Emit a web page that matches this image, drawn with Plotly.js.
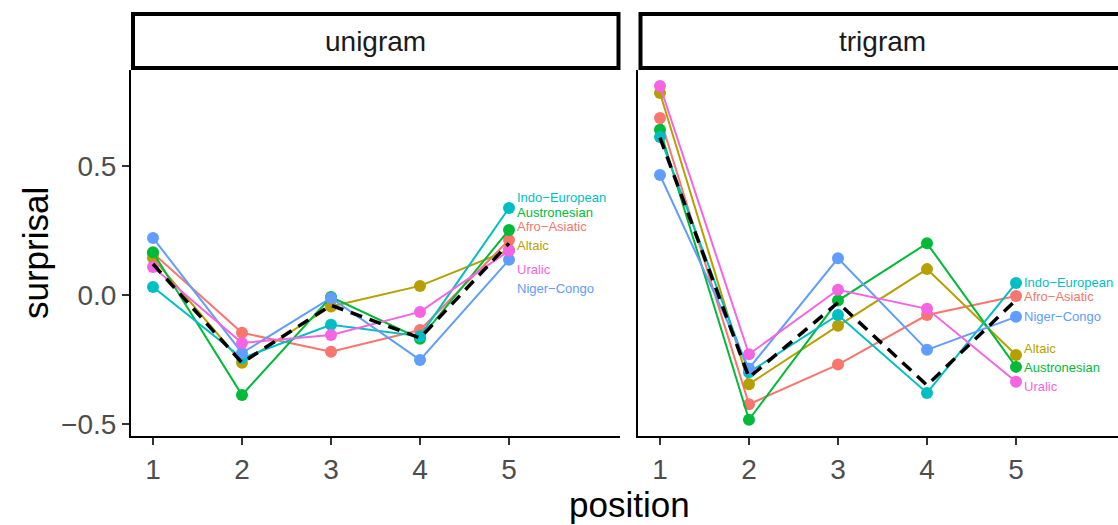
<!DOCTYPE html>
<html>
<head>
<meta charset="utf-8">
<script src="https://cdn.plot.ly/plotly-3.0.1.min.js"></script>
<style>html,body{margin:0;padding:0;background:#fff;}#chart{width:1118px;height:525px;}</style>
</head>
<body>
<div id="chart"></div>
<script>
// ---- data ----
const positions = [1, 2, 3, 4, 5];
const families = ["Afro−Asiatic", "Altaic", "Austronesian", "Indo−European", "Niger−Congo", "Uralic"];
const familyColors = ["#F8766D", "#B79F00", "#00BA38", "#00BFC4", "#619CFF", "#F564E3"];
const panels = ["unigram", "trigram"];

// unigram panel
const uniAfroAsiatic  = [0.162, -0.147, -0.220, -0.136, 0.213];
const uniAltaic       = [0.143, -0.263, -0.045,  0.035, 0.174];
const uniAustronesian = [0.165, -0.388, -0.008, -0.170, 0.252];
const uniIndoEuropean = [0.031, -0.245, -0.116, -0.160, 0.337];
const uniNigerCongo   = [0.221, -0.225, -0.012, -0.252, 0.136];
const uniUralic       = [0.108, -0.186, -0.155, -0.066, 0.171];
const uniMean         = [0.120, -0.263, -0.040, -0.167, 0.200];
// label positions (value axis) for the direct labels
const uniLabelY = [0.264, 0.190, 0.318, 0.376, 0.023, 0.100];

// trigram panel
const triAfroAsiatic  = [0.686, -0.424, -0.270, -0.078, -0.004];
const triAltaic       = [0.783, -0.346, -0.120,  0.100, -0.233];
const triAustronesian = [0.640, -0.484, -0.022,  0.200, -0.279];
const triIndoEuropean = [0.612, -0.300, -0.078, -0.380,  0.046];
const triNigerCongo   = [0.465, -0.285,  0.142, -0.213, -0.085];
const triUralic       = [0.810, -0.230,  0.020, -0.054, -0.337];
const triMean         = [0.610, -0.320, -0.030, -0.350, -0.020];
const triLabelY = [-0.008, -0.209, -0.283, 0.050, -0.085, -0.357];

const yTickVals = [-0.5, 0, 0.5];
const yTickText = ["−0.5", "0.0", "0.5"];
const xTickVals = [1, 2, 3, 4, 5];
const xTickText = ["1", "2", "3", "4", "5"];

// ---- build ----
const FONT = "Liberation Sans, Arial, Helvetica, sans-serif";
const uniSeries = [uniAfroAsiatic, uniAltaic, uniAustronesian, uniIndoEuropean, uniNigerCongo, uniUralic];
const triSeries = [triAfroAsiatic, triAltaic, triAustronesian, triIndoEuropean, triNigerCongo, triUralic];

const traces = [];
const annotations = [];
[[uniSeries, uniMean, uniLabelY, "x", "y"], [triSeries, triMean, triLabelY, "x2", "y2"]].forEach(([series, mean, labY, xa, ya]) => {
  series.forEach((vals, i) => {
    traces.push({
      x: positions, y: vals, xaxis: xa, yaxis: ya,
      type: "scatter", mode: "lines+markers",
      line: {color: familyColors[i], width: 2},
      marker: {color: familyColors[i], size: 12},
      showlegend: false, hoverinfo: "skip", cliponaxis: false
    });
    annotations.push({
      x: positions[positions.length - 1], y: labY[i], xref: xa, yref: ya,
      text: families[i], showarrow: false, xanchor: "left", yanchor: "middle",
      xshift: 6, font: {family: FONT, size: 13, color: familyColors[i]}
    });
  });
  traces.push({
    x: positions, y: mean, xaxis: xa, yaxis: ya,
    type: "scatter", mode: "lines",
    line: {color: "#000000", width: 3.5, dash: "12px,8px"},
    showlegend: false, hoverinfo: "skip", cliponaxis: false
  });
});

// pixel helpers for paper coordinates (plot area: x 131..1118, y 70..436)
const L = 131, R = 1118, T = 70, B = 436;
const px = v => (v - L) / (R - L);
const py = v => (B - v) / (B - T);

// strip labels
annotations.push({x: px(375.5), y: py(41), xref: "paper", yref: "paper", text: panels[0], showarrow: false,
  xanchor: "center", yanchor: "middle", font: {family: FONT, size: 28, color: "#1A1A1A"}});
annotations.push({x: px(882), y: py(41), xref: "paper", yref: "paper", text: panels[1], showarrow: false,
  xanchor: "center", yanchor: "middle", font: {family: FONT, size: 28, color: "#1A1A1A"}});
// axis titles
annotations.push({x: px(629), y: py(505), xref: "paper", yref: "paper", text: "position", showarrow: false,
  xanchor: "center", yanchor: "middle", font: {family: FONT, size: 35, color: "#000000"}});
annotations.push({x: px(35), y: py(253), xref: "paper", yref: "paper", text: "surprisal", showarrow: false,
  textangle: -90, xanchor: "center", yanchor: "middle", font: {family: FONT, size: 35, color: "#000000"}});

const shapes = [
  {type: "rect", xref: "paper", yref: "paper", x0: px(133), x1: px(618.5), y0: py(68), y1: py(14),
   line: {color: "#000", width: 4}, fillcolor: "rgba(0,0,0,0)"},
  {type: "rect", xref: "paper", yref: "paper", x0: px(640.5), x1: px(1122), y0: py(68), y1: py(14),
   line: {color: "#000", width: 4}, fillcolor: "rgba(0,0,0,0)"}
];

const axisCommon = {
  showgrid: false, zeroline: false, showline: true, linecolor: "#000", linewidth: 2,
  ticks: "outside", ticklen: 7, tickwidth: 2, tickcolor: "#333333",
  tickfont: {family: FONT, size: 28, color: "#4D4D4D"}, fixedrange: true
};
const xr1 = [0.753, 6.247], xr2 = [0.753, 6.146], yr = [-0.547, 0.872];

const layout = {
  width: 1118, height: 525,
  margin: {l: L, r: 0, t: T, b: 525 - B, pad: 0},
  paper_bgcolor: "#fff", plot_bgcolor: "#fff",
  font: {family: FONT},
  xaxis: Object.assign({}, axisCommon, {domain: [0, px(620)], range: xr1, tickvals: xTickVals, ticktext: xTickText, anchor: "y"}),
  xaxis2: Object.assign({}, axisCommon, {domain: [px(638), 1], range: xr2, tickvals: xTickVals, ticktext: xTickText, anchor: "y2"}),
  yaxis: Object.assign({}, axisCommon, {domain: [0, 1], range: yr, tickvals: yTickVals, ticktext: yTickText, anchor: "x"}),
  yaxis2: Object.assign({}, axisCommon, {domain: [0, 1], range: yr, tickvals: yTickVals, ticktext: yTickText, anchor: "x2", showticklabels: false, ticks: ""}),
  annotations: annotations,
  shapes: shapes,
  showlegend: false
};

Plotly.newPlot("chart", traces, layout, {displayModeBar: false, staticPlot: true});
</script>
</body>
</html>
